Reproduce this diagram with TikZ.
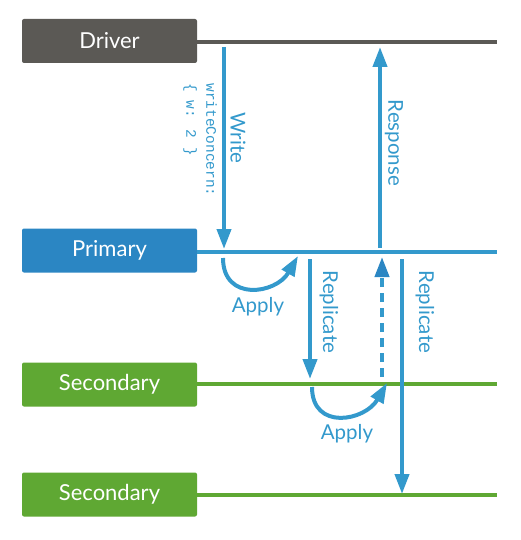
\documentclass[tikz,border=0pt]{standalone}
\usepackage{fontspec}
\setmainfont{Lato}
\newfontfamily\codefont{Liberation Mono}
\usetikzlibrary{arrows.meta}

\definecolor{drivergray}{HTML}{5B5955}
\definecolor{primaryblue}{HTML}{2B86C3}
\definecolor{arrowblue}{HTML}{3399CC}
\definecolor{secgreen}{HTML}{5FA833}

\tikzset{
  member/.style={rounded corners=2pt, minimum width=175pt, minimum height=44pt, inner sep=0pt, text=white, font=\fontsize{22}{24}\selectfont},
  lifeline/.style={line width=4pt},
  msg/.style={arrowblue, line width=4pt, -{Triangle[length=20pt,width=14pt]}},
  msglabel/.style={arrowblue, rotate=-90, inner sep=0pt, font=\fontsize{20.5}{22}\selectfont},
  applylabel/.style={arrowblue, inner sep=0pt, font=\fontsize{20.5}{22}\selectfont}
}

\begin{document}
\begin{tikzpicture}[x=1pt,y=-1pt]
\useasboundingbox (0,0) rectangle (520,540);

\node[member, fill=drivergray] (driver) at (109.5,41) {Driver};
\node[member, fill=primaryblue] (primary) at (109.5,250.5) {Primary};
\node[member, fill=secgreen] (secA) at (109.5,384.5) {Secondary};
\node[member, fill=secgreen] (secB) at (109.5,494.5) {Secondary};

\coordinate (driverEnd) at (497,42);
\coordinate (primaryEnd) at (497,252);
\coordinate (secAEnd) at (497,384);
\coordinate (secBEnd) at (497,495);
\draw[lifeline, drivergray] (driver.east |- driverEnd) -- (driverEnd);
\draw[lifeline, arrowblue] (primary.east |- primaryEnd) -- (primaryEnd);
\draw[lifeline, secgreen] (secA.east |- secAEnd) -- (secAEnd);
\draw[lifeline, secgreen] (secB.east |- secBEnd) -- (secBEnd);

% write and response
\coordinate (writeTop) at (224,47);
\coordinate (writeEnd) at (224,249);
\coordinate (respBase) at (380,248);
\coordinate (respEnd) at (380,47);
\draw[msg] (writeTop) -- (writeEnd);
\draw[msg] (respBase) -- (respEnd);
\node[msglabel] (write) at (238,138) {Write};
\node[msglabel] (response) at (394,143) {Response};
\node[arrowblue, rotate=-90, align=left, inner sep=0pt, font=\codefont\fontsize{14.5}{20}\selectfont] (concern) at (200,140) {writeConcern:\\\{ w: 2 \}};

% primary applies and replicates
\coordinate (applyA) at (223,258);
\coordinate (applyAEnd) at (298,256);
\draw[msg] (applyA) to[out=-90, in=-120, looseness=1.5] (applyAEnd);
\node[applylabel] (applyAText) at (258,307) {Apply};

\coordinate (repA) at (310,259);
\coordinate (repAEnd) at (310,379);
\draw[msg] (repA) -- (repAEnd);
\node[msglabel] (repAText) at (329,312) {Replicate};

\coordinate (repB) at (402,259);
\coordinate (repBEnd) at (402,494);
\draw[msg] (repB) -- (repBEnd);
\node[msglabel] (repBText) at (425,312) {Replicate};

% secondary applies and acknowledges
\coordinate (applyB) at (312,387);
\coordinate (applyBEnd) at (387,383);
\draw[msg] (applyB) to[out=-90, in=-120, looseness=1.5] (applyBEnd);
\node[applylabel] (applyBText) at (347,434) {Apply};

\coordinate (ackBase) at (382,377);
\coordinate (ackEnd) at (382,257);
\draw[msg, dash pattern=on 9pt off 6pt, -{Triangle[length=20pt,width=14pt,color=primaryblue]}] (ackBase) -- (ackEnd);

\end{tikzpicture}
\end{document}
